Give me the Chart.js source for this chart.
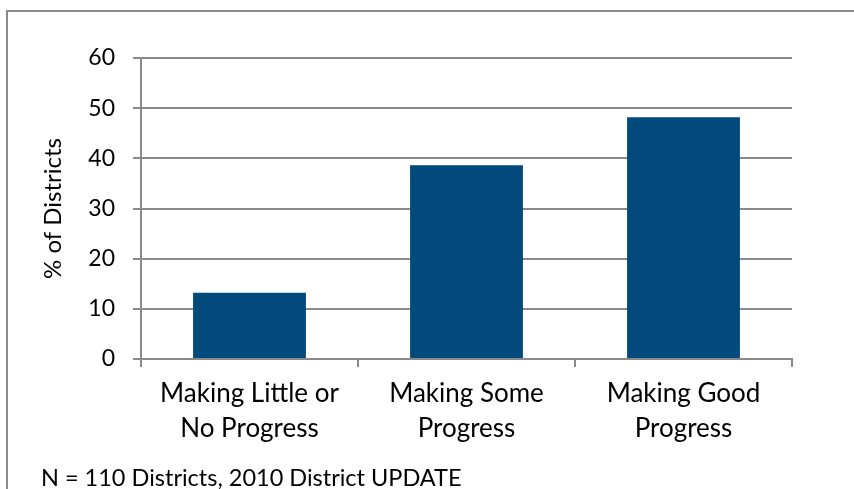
<!DOCTYPE html>
<html>
<head>
<meta charset="utf-8">
<script src="https://cdn.jsdelivr.net/npm/chart.js@4/dist/chart.umd.min.js"></script>
<style>
  html, body { margin: 0; padding: 0; background: #fff; }
  #wrap { width: 854px; height: 489px; }
</style>
</head>
<body>
<div id="wrap"><canvas id="myChart" width="854" height="489"></canvas></div>
<script>
// Progress categories and share of districts (%)
const categories = [["Making Little or", "No Progress"], ["Making Some", "Progress"], ["Making Good", "Progress"]];
const percentDistricts = [13.2, 38.6, 48.2];
const yTicks = [0, 10, 20, 30, 40, 50, 60];
const footnote = "N = 110 Districts, 2010 District UPDATE";

const gridColor = "#8a8a8a";
const fontFamily = "Lato, 'Open Sans', sans-serif";

// Frame around the chart plus the source note underneath
const framePlugin = {
  id: "frame",
  afterDraw(chart) {
    const ctx = chart.ctx;
    ctx.save();
    ctx.strokeStyle = "#8a8a8a";
    ctx.lineWidth = 2;
    ctx.strokeRect(7, 11, 900, 600);
    ctx.fillStyle = "#000";
    ctx.font = "23.5px " + fontFamily;
    ctx.textBaseline = "middle";
    ctx.fillText(footnote, 41, 478);
    ctx.restore();
  }
};

const ctx = document.getElementById("myChart").getContext("2d");

new Chart(ctx, {
  type: "bar",
  data: {
    labels: categories,
    datasets: [{
      data: percentDistricts,
      backgroundColor: "#02497c",
      barPercentage: 1,
      categoryPercentage: 0.52
    }]
  },
  options: {
    responsive: false,
    animation: false,
    layout: { padding: { left: 0, top: 58, right: 62, bottom: 30 } },
    plugins: {
      legend: { display: false },
      tooltip: { enabled: false }
    },
    scales: {
      x: {
        afterFit(scale) { scale.height = 100; },
        grid: {
          offset: true,
          drawOnChartArea: false,
          color: gridColor,
          lineWidth: 2,
          tickLength: 8
        },
        border: { color: gridColor, width: 2 },
        ticks: {
          color: "#000",
          padding: 9,
          font: { family: fontFamily, size: 26, lineHeight: 1.35 },
          maxRotation: 0
        }
      },
      y: {
        min: 0,
        max: 60,
        afterFit(scale) { scale.width = 141; },
        afterBuildTicks(scale) { scale.ticks = yTicks.map(v => ({ value: v })); },
        grid: {
          color: gridColor,
          lineWidth: 2,
          tickLength: 8
        },
        border: { color: gridColor, width: 2 },
        ticks: {
          color: "#000",
          padding: 18,
          font: { family: fontFamily, size: 23 }
        },
        title: {
          display: true,
          text: "% of Districts",
          color: "#000",
          font: { family: fontFamily, size: 24 },
          padding: { top: 39, bottom: 0 }
        }
      }
    }
  },
  plugins: [framePlugin]
});
</script>
</body>
</html>
